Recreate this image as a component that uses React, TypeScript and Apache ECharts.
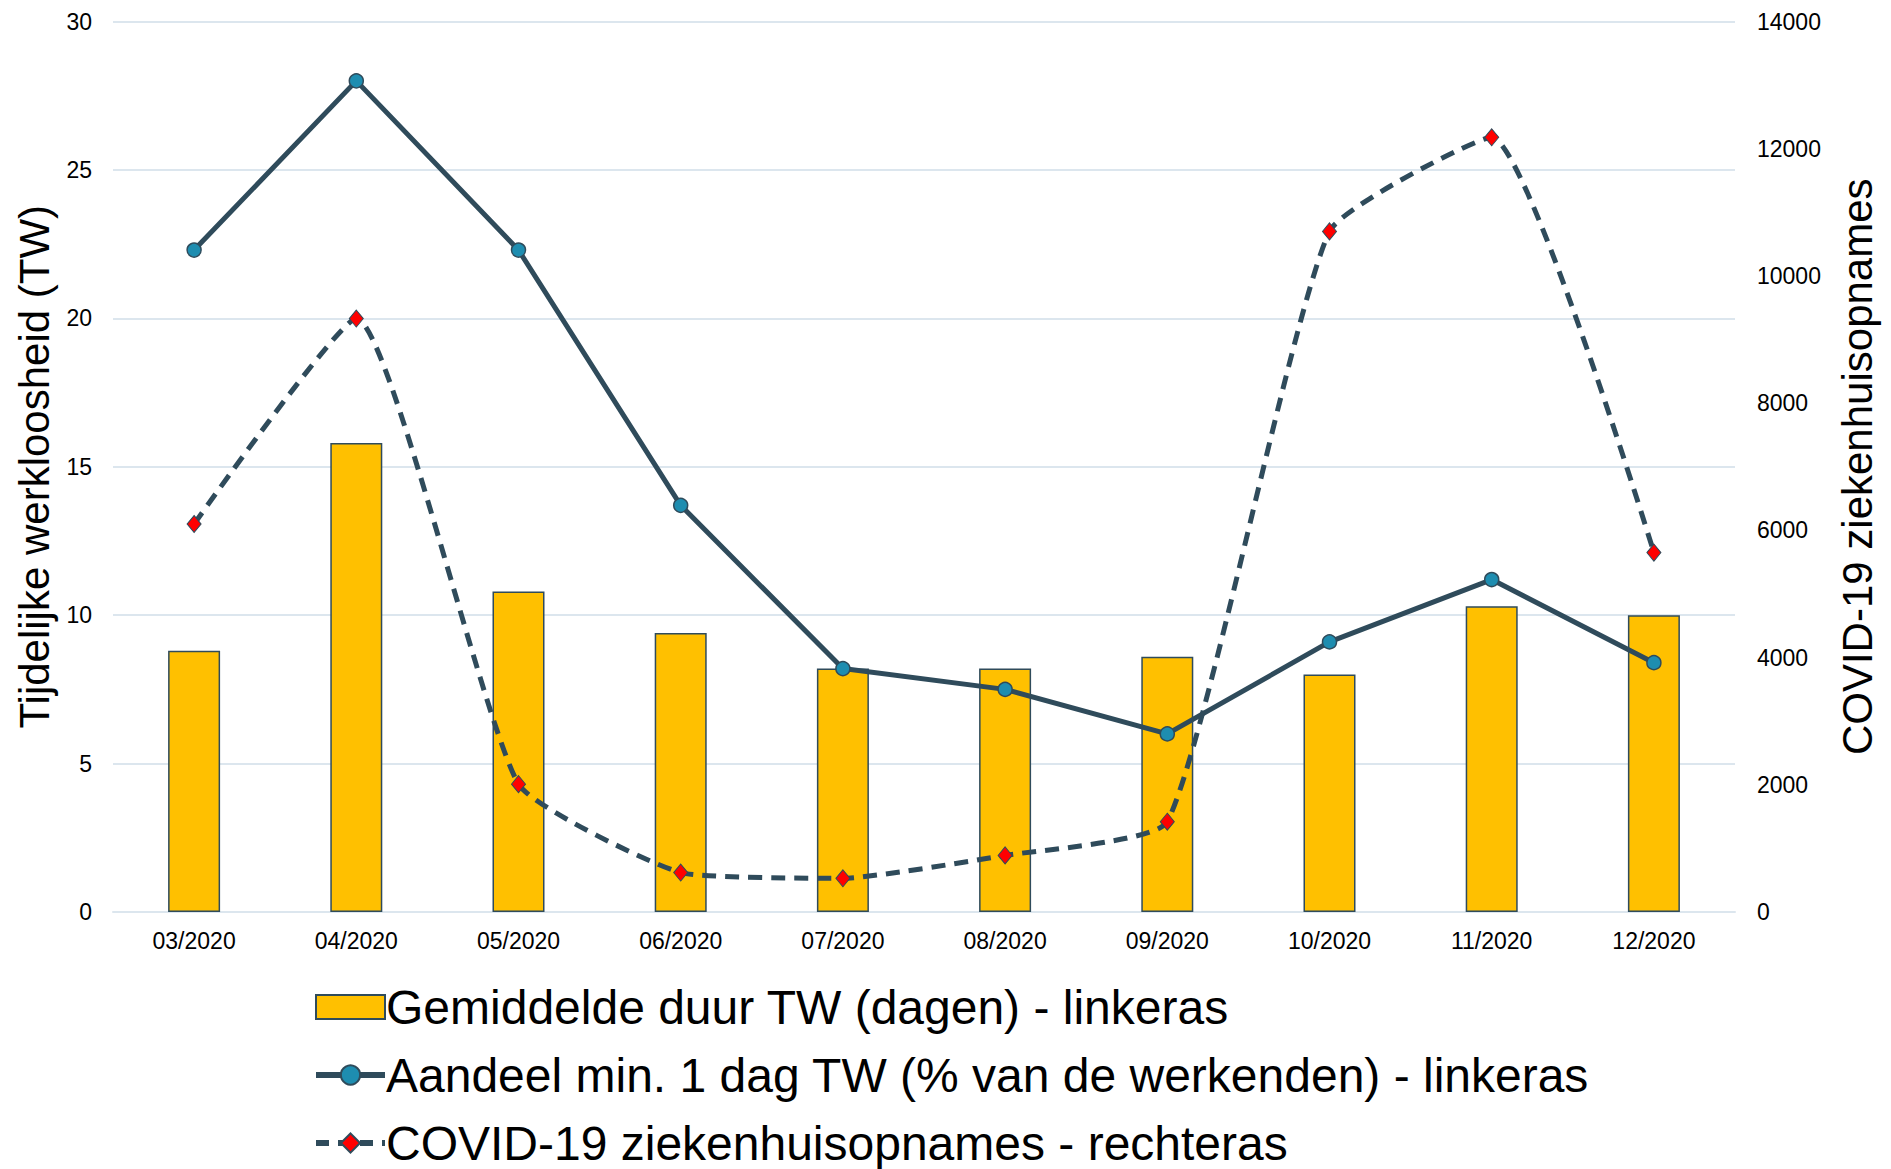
import React, { useEffect, useRef } from "react";
import * as echarts from "echarts";

const categories = ["03/2020", "04/2020", "05/2020", "06/2020", "07/2020", "08/2020", "09/2020", "10/2020", "11/2020", "12/2020"];
const duurTW = [8.8, 15.8, 10.8, 9.4, 8.2, 8.2, 8.6, 8.0, 10.3, 10.0];
const aandeelTW = [22.3, 28.0, 22.3, 13.7, 8.2, 7.5, 6.0, 9.1, 11.2, 8.4];
const covidOpnames = [6100, 9330, 2010, 620, 530, 890, 1420, 10700, 12180, 5650];

const seriesNames = [
  "Gemiddelde duur TW (dagen) - linkeras",
  "Aandeel min. 1 dag TW (% van de werkenden) - linkeras",
  "COVID-19 ziekenhuisopnames - rechteras",
];
const leftAxisName = "Tijdelijke werkloosheid (TW)";
const rightAxisName = "COVID-19 ziekenhuisopnames";

const FONT = "'Liberation Sans', Arial, sans-serif";
const DARK = "#2F4B5B";
const GRID = "#DCE6EE";

export default function App() {
  const ref = useRef<HTMLDivElement>(null);
  useEffect(() => {
    document.body.style.margin = "0";
    if (!ref.current) return;
    const chart = echarts.init(ref.current, undefined, { renderer: "svg" });
    chart.setOption({
      animation: false,
      backgroundColor: "#ffffff",
      textStyle: { fontFamily: FONT },
      grid: { left: 113, right: 156, top: 21.5, bottom: 257, containLabel: false },
      legend: {
        orient: "vertical",
        left: 308,
        top: 978,
        height: 186,
        itemWidth: 69,
        itemHeight: 24,
        itemGap: 20,
        textStyle: { fontSize: 48, color: "#000", fontFamily: FONT, lineHeight: 48, padding: [0, 0, 0, -4] },
        data: [
          { name: seriesNames[0], icon: "rect" },
          { name: seriesNames[1], lineStyle: { width: 6, color: DARK } },
          { name: seriesNames[2], lineStyle: { width: 6, color: DARK, type: [13, 9] } },
        ],
      },
      xAxis: {
        type: "category",
        data: categories,
        axisLine: { show: true, lineStyle: { color: GRID, width: 2 } },
        axisTick: { show: false },
        axisLabel: { fontSize: 23, color: "#000", margin: 17, fontFamily: FONT },
      },
      yAxis: [
        {
          type: "value",
          min: 0,
          max: 30,
          interval: 5,
          name: leftAxisName,
          nameLocation: "middle",
          nameRotate: 90,
          nameGap: 56,
          nameTextStyle: { fontSize: 42, color: "#000", fontFamily: FONT },
          axisLine: { show: false },
          axisTick: { show: false },
          axisLabel: { fontSize: 23, color: "#000", margin: 21, fontFamily: FONT },
          splitLine: { show: true, lineStyle: { color: GRID, width: 2 } },
        },
        {
          type: "value",
          min: 0,
          max: 14000,
          interval: 2000,
          position: "right",
          name: rightAxisName,
          nameLocation: "middle",
          nameRotate: 90,
          nameGap: 101,
          nameTextStyle: { fontSize: 42, color: "#000", fontFamily: FONT },
          axisLine: { show: false },
          axisTick: { show: false },
          axisLabel: { fontSize: 23, color: "#000", margin: 22, fontFamily: FONT, formatter: (v: number) => String(v) },
          splitLine: { show: false },
        },
      ],
      series: [
        {
          name: seriesNames[0],
          type: "bar",
          yAxisIndex: 0,
          data: duurTW,
          barWidth: 52,
          itemStyle: { color: "#FFC000", borderColor: DARK, borderWidth: 1.5 },
        },
        {
          name: seriesNames[1],
          type: "line",
          yAxisIndex: 0,
          data: aandeelTW,
          symbol: "circle",
          symbolSize: 14,
          lineStyle: { color: DARK, width: 5 },
          itemStyle: { color: "#1E8DB0", borderColor: DARK, borderWidth: 1.5 },
        },
        {
          name: seriesNames[2],
          type: "line",
          yAxisIndex: 1,
          data: covidOpnames,
          smooth: 0.15,
          symbol: "diamond",
          symbolSize: [14, 17],
          lineStyle: { color: DARK, width: 5, type: [14, 9] },
          itemStyle: { color: "#FF0000", borderColor: DARK, borderWidth: 1 },
        },
      ],
    });
    return () => chart.dispose();
  }, []);
  return <div ref={ref} style={{ width: 1891, height: 1169 }} />;
}
